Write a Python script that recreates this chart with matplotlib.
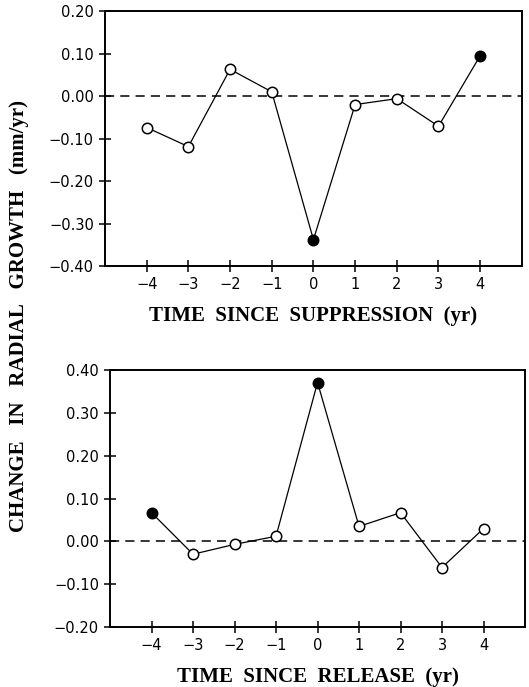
import matplotlib
matplotlib.use('Agg')
import matplotlib.pyplot as plt

# 資料
years = [-4, -3, -2, -1, 0, 1, 2, 3, 4]
suppression = [-0.074, -0.119, 0.063, 0.010, -0.338, -0.020, -0.006, -0.071, 0.095]
suppression_filled = [0, 4]
release = [0.067, -0.030, -0.007, 0.012, 0.371, 0.035, 0.067, -0.061, 0.030]
release_filled = [-4, 0]

top_yticks = [0.20, 0.10, 0.00, -0.10, -0.20, -0.30, -0.40]
bottom_yticks = [0.40, 0.30, 0.20, 0.10, 0.00, -0.10, -0.20]

serif = 'Liberation Serif'
tick_font = 'DejaVu Sans'

fig = plt.figure(figsize=(5.29, 6.87), dpi=100)
ax1 = fig.add_axes([0.1985, 0.6128, 0.788, 0.371])
ax2 = fig.add_axes([0.208, 0.0873, 0.7845, 0.374])


def draw(ax, y, filled, yticks, xlabel):
    ax.axhline(0, color='black', lw=1.1, ls=(0, (6, 4)), zorder=1)
    ax.plot(years, y, '-', color='black', lw=0.9, zorder=2)
    for x, v in zip(years, y):
        fc = 'black' if x in filled else 'white'
        ax.plot(x, v, 'o', ms=7.5, mfc=fc, mec='black', mew=1.1, zorder=3)
    ax.set_xlim(-5, 5)
    ax.set_ylim(min(yticks), max(yticks))
    ax.set_xticks(years)
    ax.set_xticklabels([str(x).replace('-', '\u2212') for x in years])
    ax.set_yticks(yticks)
    ax.set_yticklabels([f'{t:.2f}'.replace('-', '\u2212') for t in yticks])
    ax.tick_params(direction='inout', length=8, width=1.1, labelsize=10.5, pad=4)
    for lab in ax.get_xticklabels() + ax.get_yticklabels():
        lab.set_family(tick_font)
    for s in ax.spines.values():
        s.set_linewidth(1.4)
    ax.set_xlabel(xlabel, family=serif, fontweight='bold', fontsize=15, labelpad=10)


draw(ax1, suppression, suppression_filled, top_yticks, 'TIME  SINCE  SUPPRESSION  (yr)')
draw(ax2, release, release_filled, bottom_yticks, 'TIME  SINCE  RELEASE  (yr)')

fig.text(0.036, 0.54, 'CHANGE   IN   RADIAL   GROWTH   (mm/yr)', rotation=90,
         ha='center', va='center', family=serif, fontweight='bold', fontsize=15)

fig.savefig('out.png', dpi=100)
